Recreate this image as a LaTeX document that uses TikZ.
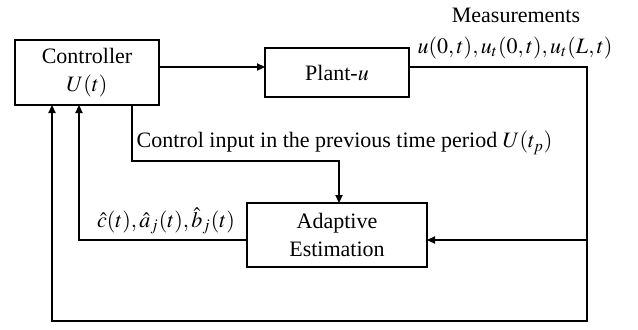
\documentclass[tikz,border=0pt]{standalone}
\usepackage{mathptmx}
\usepackage{fontspec}
\setmainfont{Liberation Serif}
\usetikzlibrary{arrows.meta, calc, positioning}

\begin{document}
\begin{tikzpicture}[% styles used in image code
       x = 0.5pt, y = -0.5pt,
       > = {Triangle[length=4pt, width=3.6pt]},
every path/.style = {line width=0.7pt},
block/.style = {draw, align=center, inner sep=0pt, outer sep=0pt,
                font=\fontsize{11}{14}\selectfont},
lbl/.style = {inner sep=0pt, font=\fontsize{11}{13}\selectfont}
                    ]
	\useasboundingbox (0,0) rectangle (638,329);

	% blocks
	\node[block, minimum width=72pt, minimum height=32.5pt] (ctrl)  at (87,72.5)  {Controller\\$U(t)$};
	\node[block, minimum width=72pt, minimum height=24.5pt] (plant) at (337,72.5) {Plant-$u$};
	\node[block, minimum width=90pt, minimum height=32pt]   (est)   at (337,235)  {Adaptive\\Estimation};

	% labels
	\node[lbl] (meas) at (516,15) {Measurements};
	\node[lbl] (mval) at (515,48) {$u(0,t), u_t(0,t), u_t(L,t)$};
	\node[lbl, right] (cin) at (136,143) {Control input in the previous time period $U(t_p)$};
	\node[lbl] (par) at (166,221) {$\hat{c}(t), \hat{a}_j(t), \hat{b}_j(t)$};

	% corners of the wires
	\coordinate (br) at (587,321);
	\coordinate (tp) at (339,161);

	% controller to plant
	\draw[->] ([yshift=2.75pt]ctrl.east) -- ([yshift=2.75pt]ctrl.east -| plant.west);
	% measurements back to controller
	\draw[->] ([yshift=2.75pt]plant.east) -- ([yshift=2.75pt]plant.east -| br) -- (br)
	          -| ([xshift=-17.5pt]ctrl.south);
	% measurements to estimator
	\draw[->] ([yshift=-2.5pt]est.east -| br) -- ([yshift=-2.5pt]est.east);
	% estimates to controller
	\draw[->] ([yshift=-2.5pt]est.west) -| ([xshift=-4pt]ctrl.south);
	% previous control input to estimator
	\draw[->] ([xshift=22.5pt]ctrl.south) |- (tp) -- (tp |- est.north);
\end{tikzpicture}
\end{document}
